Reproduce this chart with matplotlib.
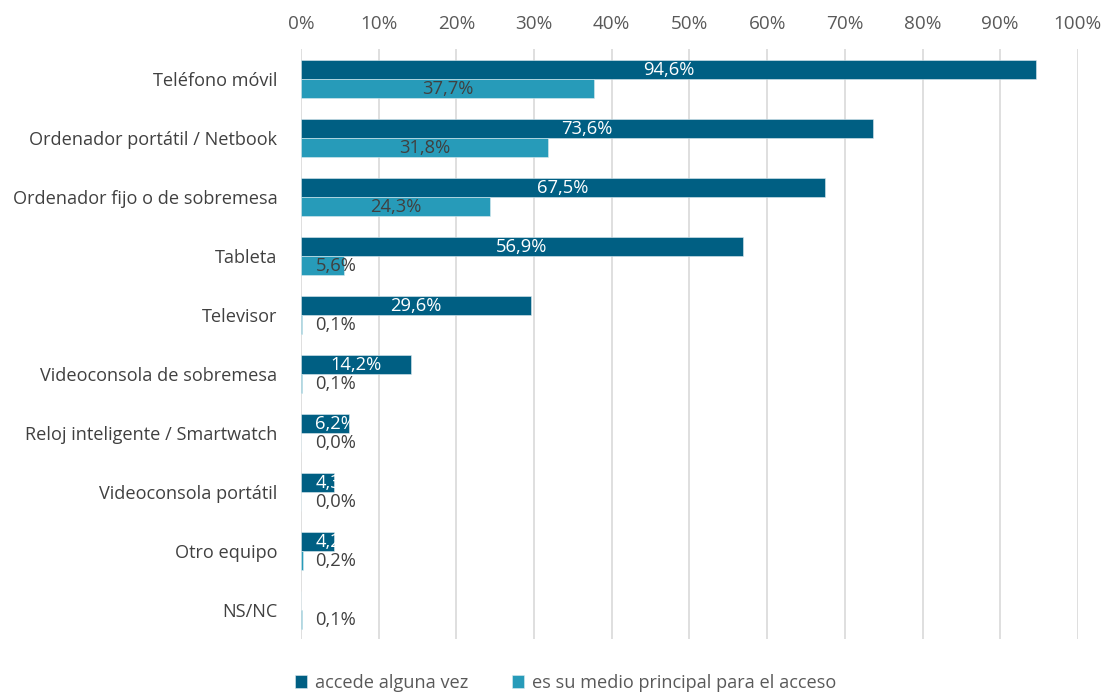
import numpy as np
import matplotlib.pyplot as plt

plt.rcParams['font.family'] = ['Open Sans', 'DejaVu Sans']

categories = ['Teléfono móvil', 'Ordenador portátil / Netbook',
              'Ordenador fijo o de sobremesa', 'Tableta', 'Televisor',
              'Videoconsola de sobremesa', 'Reloj inteligente / Smartwatch',
              'Videoconsola portátil', 'Otro equipo', 'NS/NC']
alguna_vez = [94.6, 73.6, 67.5, 56.9, 29.6, 14.2, 6.2, 4.3, 4.2, 0.0]
principal = [37.7, 31.8, 24.3, 5.6, 0.1, 0.1, 0.0, 0.0, 0.2, 0.1]

dark = '#005F83'
light = '#279BB9'
grid_gray = '#D9D9D9'
text_gray = '#595959'

fig = plt.figure(figsize=(11.04, 6.92), dpi=100)
ax = fig.add_axes([0.2726, 0.0759, 0.7038, 0.8526])

y = np.arange(len(categories))
h = 0.314

ax.barh(y - h / 2, alguna_vez, h, color=dark, edgecolor='#DDEBF0',
        linewidth=0.4, label='accede alguna vez', zorder=3)
ax.barh(y + h / 2, principal, h, color=light, edgecolor='#DDEBF0',
        linewidth=0.4, label='es su medio principal para el acceso', zorder=3)


def fmt(v):
    return ('%.1f%%' % v).replace('.', ',')


# value labels centred on the bars, kept a little off the axis for short bars
for yi, v in zip(y, alguna_vez):
    if v > 0:
        ax.text(max(v / 2, 4.5), yi - h / 2, fmt(v), ha='center', va='center',
                color='white', fontsize=13.2, zorder=4)
for yi, v in zip(y, principal):
    ax.text(max(v / 2, 4.5), yi + h / 2 + 0.02, fmt(v), ha='center',
            va='center', color='#404040', fontsize=13.2, zorder=4)

ax.set_xlim(0, 100)
ax.set_ylim(len(categories) - 0.5, -0.5)
ax.set_xticks(np.arange(0, 101, 10))
ax.set_xticklabels(['%d%%' % t for t in range(0, 101, 10)])
ax.xaxis.tick_top()
ax.tick_params(axis='x', length=0, pad=12, labelsize=13.6, labelcolor=text_gray)
ax.set_yticks(y)
ax.set_yticklabels(categories)
ax.tick_params(axis='y', length=0, pad=17, labelsize=13.1, labelcolor='#404040')

ax.grid(axis='x', color=grid_gray, linewidth=1.2, zorder=0)
for s in ax.spines.values():
    s.set_visible(False)

fig.legend(loc='center', bbox_to_anchor=(0.512, 0.013), ncol=2, frameon=False,
           fontsize=13.1, handlelength=0.7, handleheight=0.7, handletextpad=0.4,
           columnspacing=2.4, labelcolor=text_gray, borderpad=0.1)

fig.savefig('out.png', dpi=100)
